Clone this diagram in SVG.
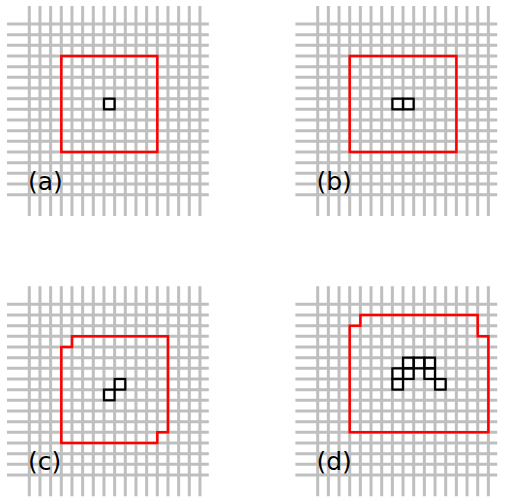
<svg xmlns="http://www.w3.org/2000/svg" xmlns:xlink="http://www.w3.org/1999/xlink" width="505" height="498" viewBox="0 0 505 498">
<style>
.grid{fill:none;stroke:#bfbfbf;stroke-width:3}
.hull{fill:none;stroke:#ff0000;stroke-width:2.5;stroke-linejoin:miter}
.cell{fill:none;stroke:#000000;stroke-width:2.2}
.lbl{font-family:"DejaVu Sans",sans-serif;font-size:25px;fill:#000000}
</style>
<defs>
<path id="lattice" class="grid" d="M0 -18V192M10.667 -18V192M21.333 -18V192M32 -18V192M42.667 -18V192M53.333 -18V192M64 -18V192M74.667 -18V192M85.333 -18V192M96 -18V192M106.667 -18V192M117.333 -18V192M128 -18V192M138.667 -18V192M149.333 -18V192M160 -18V192M170.667 -18V192M-22.3 0H179.5M-22.3 10.667H179.5M-22.3 21.333H179.5M-22.3 32H179.5M-22.3 42.667H179.5M-22.3 53.333H179.5M-22.3 64H179.5M-22.3 74.667H179.5M-22.3 85.333H179.5M-22.3 96H179.5M-22.3 106.667H179.5M-22.3 117.333H179.5M-22.3 128H179.5M-22.3 138.667H179.5M-22.3 149.333H179.5M-22.3 160H179.5M-22.3 170.667H179.5"/>
<rect id="sq" class="cell" x="0" y="0" width="10.667" height="10.667"/>
</defs>
<g id="panel-a" transform="translate(29.3,24)">
<use xlink:href="#lattice"/>
<rect class="hull" x="32" y="32" width="96" height="96"/>
<use xlink:href="#sq" x="74.667" y="74.667"/>
<text class="lbl" x="-1.3" y="166">(a)</text>
</g>
<g id="panel-b" transform="translate(317.7,24)">
<use xlink:href="#lattice"/>
<rect class="hull" x="32" y="32" width="106.667" height="96"/>
<use xlink:href="#sq" x="74.667" y="74.667"/>
<use xlink:href="#sq" x="85.333" y="74.667"/>
<text class="lbl" x="-1.3" y="166">(b)</text>
</g>
<g id="panel-c" transform="translate(29.3,304.3)">
<use xlink:href="#lattice"/>
<polygon class="hull" points="42.667,32 138.667,32 138.667,128 128,128 128,138.667 32,138.667 32,42.667 42.667,42.667"/>
<use xlink:href="#sq" x="74.667" y="85.333"/>
<use xlink:href="#sq" x="85.333" y="74.667"/>
<text class="lbl" x="-1.3" y="166">(c)</text>
</g>
<g id="panel-d" transform="translate(317.7,304.3)">
<use xlink:href="#lattice"/>
<polygon class="hull" points="42.667,10.667 160,10.667 160,32 170.667,32 170.667,128 32,128 32,21.333 42.667,21.333"/>
<use xlink:href="#sq" x="85.333" y="53.333"/>
<use xlink:href="#sq" x="96" y="53.333"/>
<use xlink:href="#sq" x="106.667" y="53.333"/>
<use xlink:href="#sq" x="74.667" y="64"/>
<use xlink:href="#sq" x="85.333" y="64"/>
<use xlink:href="#sq" x="106.667" y="64"/>
<use xlink:href="#sq" x="74.667" y="74.667"/>
<use xlink:href="#sq" x="117.333" y="74.667"/>
<text class="lbl" x="-1.3" y="166">(d)</text>
</g>
</svg>
